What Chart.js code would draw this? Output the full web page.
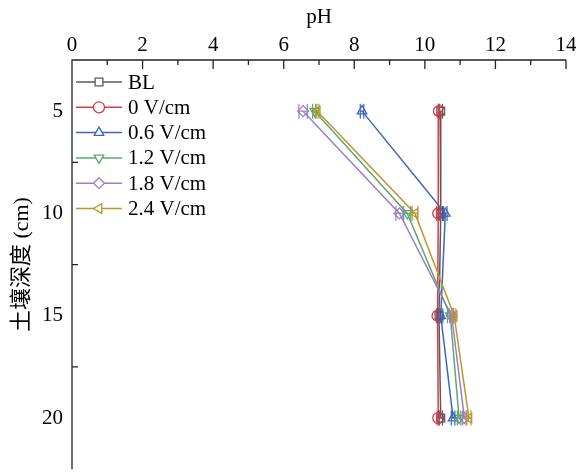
<!DOCTYPE html>
<html>
<head>
<meta charset="utf-8">
<script src="https://cdn.jsdelivr.net/npm/chart.js@4"></script>
<style>
  html, body { margin: 0; padding: 0; background: #fff; overflow: hidden; }
  #wrap { width: 576px; height: 476px; }
  canvas { display: block; }
</style>
</head>
<body>
<div id="wrap"><canvas id="myChart" width="576" height="476"></canvas></div>
<script>
const depths = [5, 10, 15, 20];
const seriesNames = ['BL', '0 V/cm', '0.6 V/cm', '1.2 V/cm', '1.8 V/cm', '2.4 V/cm'];

// pH by depth (5, 10, 15, 20 cm)
const ph_bl = [10.45, 10.45, 10.4, 10.45];
const ph_0 = [10.4, 10.38, 10.36, 10.38];
const ph_06 = [8.22, 10.58, 10.45, 10.8];
const ph_12 = [6.88, 9.5, 10.72, 10.97];
const ph_18 = [6.55, 9.28, 10.76, 11.12];
const ph_24 = [6.95, 9.72, 10.83, 11.25];

// error bars (pH)
const err_bl = [0.05, 0.05, 0.05, 0.05];
const err_0 = [0.02, 0.05, 0.03, 0.03];
const err_06 = [0.05, 0.05, 0.06, 0.05];
const err_12 = [0.06, 0.1, 0.08, 0.05];
const err_18 = [0.12, 0.1, 0.06, 0.05];
const err_24 = [0.05, 0.08, 0.05, 0.06];

const xTickLabels = [0, 2, 4, 6, 8, 10, 12, 14];
const yTickLabels = [5, 10, 15, 20];
const yTickMarks = [7.5, 12.5, 17.5];

const values = [ph_bl, ph_0, ph_06, ph_12, ph_18, ph_24];
const errors = [err_bl, err_0, err_06, err_12, err_18, err_24];
const colors = ['#5a5a5a', '#d63b48', '#3e66bd', '#5ea870', '#9a80c3', '#bf952f'];
const styles = ['rect', 'circle', 'triangle', 'triangle', 'rectRot', 'triangle'];
const rotations = [0, 0, 0, 180, 0, -90];

const FONT = "'Liberation Serif', 'Noto Sans CJK SC', serif";

const datasets = seriesNames.map((name, i) => ({
	label: name,
	data: depths.map((d, j) => ({ x: values[i][j], y: d })),
	errs: errors[i],
	showLine: true,
	borderColor: colors[i],
	borderWidth: 1.5,
	pointStyle: styles[i],
	rotation: rotations[i],
	pointRadius: 5.5,
	pointBorderWidth: 1.3,
	pointBorderColor: colors[i],
	pointBackgroundColor: 'rgba(0,0,0,0)',
	order: seriesNames.length - i
}));

const errorBars = {
	id: 'errorBars',
	afterDatasetsDraw(chart) {
		const ctx = chart.ctx;
		const xs = chart.scales.x, ys = chart.scales.y;
		ctx.save();
		chart.data.datasets.forEach(ds => {
			ctx.strokeStyle = ds.borderColor;
			ctx.lineWidth = 1.2;
			ds.data.forEach((p, j) => {
				const e = ds.errs[j];
				const y = ys.getPixelForValue(p.y);
				const x1 = xs.getPixelForValue(p.x - e);
				const x2 = xs.getPixelForValue(p.x + e);
				ctx.beginPath();
				ctx.moveTo(x1, y); ctx.lineTo(x2, y);
				ctx.moveTo(x1, y - 7.5); ctx.lineTo(x1, y + 7.5);
				ctx.moveTo(x2, y - 7.5); ctx.lineTo(x2, y + 7.5);
				ctx.stroke();
			});
		});
		ctx.restore();
	}
};

const axesLines = {
	id: 'axesLines',
	afterDraw(chart) {
		const ctx = chart.ctx;
		const a = chart.chartArea;
		const xs = chart.scales.x, ys = chart.scales.y;
		ctx.save();
		ctx.strokeStyle = '#222';
		ctx.lineWidth = 1.3;
		ctx.beginPath();
		ctx.moveTo(a.left, a.bottom); ctx.lineTo(a.left, a.top); ctx.lineTo(a.right, a.top);
		for (let v = 0; v <= 14; v++) {
			const px = xs.getPixelForValue(v);
			ctx.moveTo(px, a.top);
			ctx.lineTo(px, a.top + (v % 2 === 0 ? 9 : 5));
		}
		yTickMarks.forEach(v => {
			const py = ys.getPixelForValue(v);
			ctx.moveTo(a.left, py);
			ctx.lineTo(a.left + 6, py);
		});
		ctx.stroke();
		ctx.restore();
	}
};

const innerLegend = {
	id: 'innerLegend',
	afterDraw(chart) {
		const ctx = chart.ctx;
		const a = chart.chartArea;
		ctx.save();
		ctx.font = '21px ' + FONT;
		ctx.textBaseline = 'middle';
		ctx.fillStyle = '#000';
		chart.data.datasets.forEach((ds, i) => {
			const y = a.top + 22 + i * 25.3;
			const x0 = a.left + 4;
			ctx.strokeStyle = ds.borderColor;
			ctx.lineWidth = 1.5;
			ctx.beginPath();
			ctx.moveTo(x0, y); ctx.lineTo(x0 + 46, y);
			ctx.stroke();
			ctx.fillStyle = '#fff';
			ctx.lineWidth = 1.3;
			Chart.helpers.drawPoint(ctx, {
				pointStyle: ds.pointStyle, rotation: ds.rotation,
				radius: 5.5, borderWidth: 1.3
			}, x0 + 23, y);
			ctx.fillStyle = '#000';
			ctx.fillText(ds.label, a.left + 56, y + 1);
		});
		ctx.restore();
	}
};

const ctx = document.getElementById('myChart').getContext('2d');
let myChart = new Chart(ctx, {
	type: 'scatter',
	data: { datasets: datasets },
	plugins: [errorBars, axesLines, innerLegend],
	options: {
		responsive: false,
		animation: false,
		layout: { padding: { left: 0, right: 10, top: 0, bottom: 3 } },
		plugins: { legend: { display: false }, tooltip: { enabled: false } },
		scales: {
			x: {
				type: 'linear',
				position: 'top',
				min: 0,
				max: 14,
				afterBuildTicks: s => { s.ticks = xTickLabels.map(v => ({ value: v })); },
				afterFit: s => { s.height = 60; s.paddingLeft = 0; s.paddingRight = 0; },
				grid: { display: false },
				border: { display: false },
				ticks: { color: '#000', font: { family: FONT, size: 21 }, padding: -6, maxRotation: 0 },
				title: { display: true, text: 'pH', color: '#000', font: { family: FONT, size: 21 }, padding: { top: 5, bottom: 0 } }
			},
			y: {
				type: 'linear',
				reverse: true,
				min: 2.5,
				max: 22.5,
				afterBuildTicks: s => { s.ticks = yTickLabels.map(v => ({ value: v })); },
				afterFit: s => { s.width = 72; s.paddingTop = 0; s.paddingBottom = 0; },
				grid: { display: false },
				border: { display: false },
				ticks: { color: '#000', font: { family: FONT, size: 21 }, padding: 1 },
				title: { display: true, text: '土壤深度 (cm)', color: '#000', font: { family: FONT, size: 22 }, padding: { top: 9, bottom: 0 } }
			}
		}
	}
});
</script>
</body>
</html>
